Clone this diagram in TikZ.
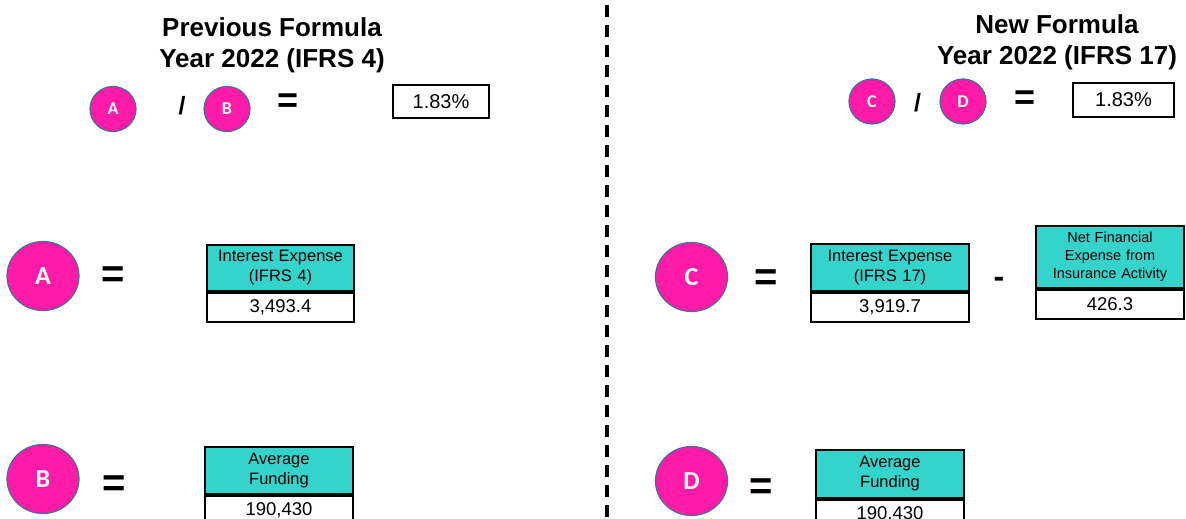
\documentclass[tikz,border=0pt]{standalone}
\usepackage{fontspec}
\setmainfont{Liberation Sans}
\newfontfamily\letterfont{Carlito}
\usetikzlibrary{positioning,shapes.geometric}
\definecolor{pinkfill}{RGB}{255,26,168}
\definecolor{ringblue}{RGB}{68,110,150}
\definecolor{tealfill}{RGB}{52,212,204}

\begin{document}
\begin{tikzpicture}[
        x=1pt, y=-1pt,
        title/.style={align=center, inner sep=0pt, anchor=north,
            font=\fontsize{26}{31.5}\selectfont\bfseries},
        smallcirc/.style={ellipse, draw=ringblue, line width=1.2pt, fill=pinkfill,
            text=white, inner sep=0pt, minimum width=46pt, minimum height=45pt,
            font=\letterfont\fontsize{18}{18}\selectfont\bfseries},
        bigcirc/.style={smallcirc, minimum width=72pt, minimum height=69pt,
            font=\letterfont\fontsize{26}{26}\selectfont\bfseries},
        op/.style={inner sep=0pt, font=\fontsize{36}{36}\selectfont\bfseries},
        bigop/.style={inner sep=0pt, font=\fontsize{40}{40}\selectfont\bfseries},
        pctbox/.style={draw, line width=1.5pt, inner sep=0pt,
            font=\fontsize{20}{20}\selectfont},
        hdrbox/.style={draw, line width=2pt, fill=tealfill, align=center,
            inner sep=0pt, anchor=north west, font=\fontsize{16.5}{20}\selectfont},
        valbox/.style={draw, line width=2pt, fill=white, inner sep=0pt,
            minimum height=29pt, font=\fontsize{18.5}{18.5}\selectfont},
        dashline/.style={line width=3.5pt, dash pattern=on 12pt off 8pt}
    ]
        \useasboundingbox (0,0) rectangle (1186,519);
        % divider
        \coordinate (divtop) at (607,5);
        \coordinate (divbot) at (607,519);
        \draw[dashline] (divtop) -- (divbot);

        % previous formula (left)
        \node[title] (ttlL) at (272,17) {Previous Formula\\Year 2022 (IFRS 4)};
        \node[smallcirc] (sA) at (113,109) {A};
        \node[op, font=\fontsize{25}{25}\selectfont\bfseries] (divL) at (182,106) {/};
        \node[smallcirc] (sB) at (227,109) {B};
        \node[op] (eqL) at (288,103) {=};
        \node[pctbox, minimum width=96pt, minimum height=33pt] (pctL) at (441,101.5) {1.83\%};

        \node[bigcirc] (bA) at (43,276) {A};
        \node[bigop] (eqA) at (113.5,277.5) {=};
        \node[hdrbox, text width=147pt, minimum height=46pt] (hdrA) at (206,244)
            {Interest Expense\\(IFRS 4)};
        \node[valbox, minimum width=147pt, below=0pt of hdrA] (valA) {3,493.4};

        \node[bigcirc] (bB) at (43,479) {B};
        \node[bigop] (eqB) at (114.5,486) {=};
        \node[hdrbox, text width=148pt, minimum height=47pt] (hdrB) at (204,446)
            {Average\\Funding};
        \node[valbox, minimum width=148pt, below=0pt of hdrB] (valB) {190,430};

        % new formula (right)
        \node[title] (ttlR) at (1057,14) {New Formula\\Year 2022 (IFRS 17)};
        \node[smallcirc] (sC) at (872,101.5) {C};
        \node[op, font=\fontsize{25}{25}\selectfont\bfseries] (divR) at (917.5,103) {/};
        \node[smallcirc] (sD) at (963,101.5) {D};
        \node[op] (eqR) at (1025,100) {=};
        \node[pctbox, minimum width=101pt, minimum height=34pt] (pctR) at (1123.5,100) {1.83\%};

        \node[bigcirc] (bC) at (691.5,277) {C};
        \node[bigop] (eqC) at (766.5,280) {=};
        \node[hdrbox, text width=158pt, minimum height=47pt] (hdrC) at (810,243)
            {Interest Expense\\(IFRS 17)};
        \node[valbox, minimum width=158pt, below=0pt of hdrC] (valC) {3,919.7};
        \node[bigop, font=\fontsize{32}{32}\selectfont\bfseries] (minus) at (999,282) {-};
        \node[hdrbox, text width=148pt, minimum height=62pt,
            font=\fontsize{14.5}{18}\selectfont] (hdrN) at (1035,225)
            {Net Financial\\Expense from\\Insurance Activity};
        \node[valbox, minimum width=148pt, below=0pt of hdrN] (valN) {426.3};

        \node[bigcirc] (bD) at (691.5,481) {D};
        \node[bigop] (eqD) at (761,489) {=};
        \node[hdrbox, text width=148pt, minimum height=48pt] (hdrD) at (815,449)
            {Average\\Funding};
        \node[valbox, minimum width=148pt, below=0pt of hdrD] (valD) {190,430};
    \end{tikzpicture}
\end{document}
